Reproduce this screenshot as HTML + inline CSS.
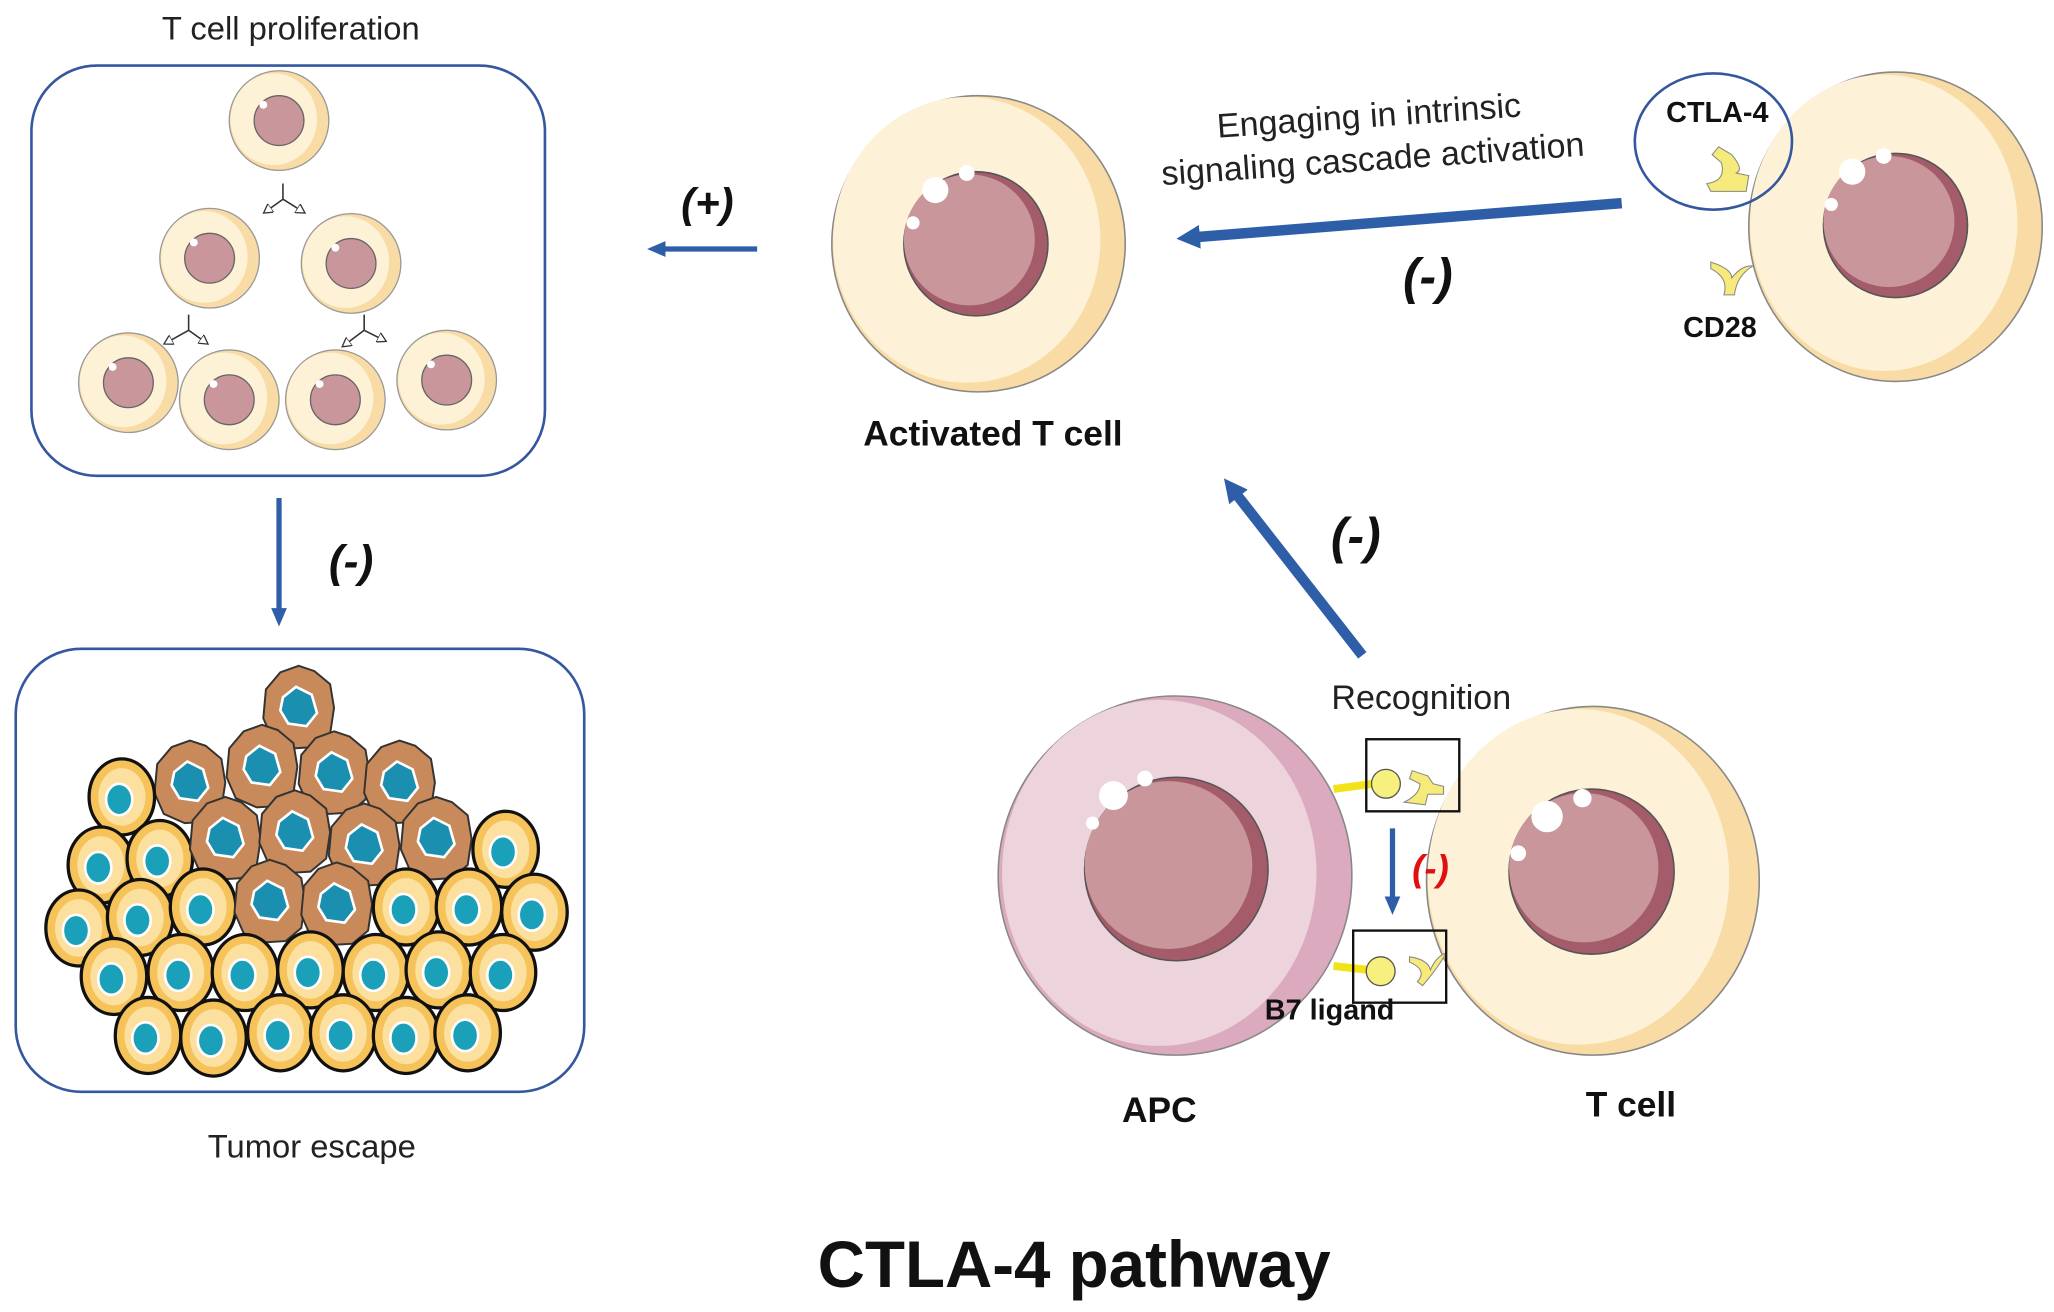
<!DOCTYPE html>
<html><head><meta charset="utf-8"><style>
html,body{margin:0;padding:0;background:#fff;}
svg{display:block;}
text{font-family:"Liberation Sans",sans-serif;}
</style></head><body>
<svg width="2054" height="1312" viewBox="0 0 1568 1001" preserveAspectRatio="none" xmlns="http://www.w3.org/2000/svg">
<defs>
<marker id="ah" markerWidth="14" markerHeight="12" refX="4" refY="6" orient="auto" markerUnits="userSpaceOnUse"><path d="M0,0 L14,6 L0,12 Z" fill="#2f5ea8"/></marker>
<marker id="ahb" markerWidth="18" markerHeight="18" refX="4" refY="9" orient="auto" markerUnits="userSpaceOnUse"><path d="M0,0 L18,9 L0,18 Z" fill="#2f5ea8"/></marker>
<marker id="ha" markerWidth="8" markerHeight="8" refX="6" refY="4" orient="auto" markerUnits="userSpaceOnUse"><path d="M0,0 L7,4 L0,8 Z" fill="#fff" stroke="#333" stroke-width="1"/></marker>
<g id="sc">
<circle r="38" fill="#f9dca5" stroke="#999" stroke-width="1"/>
<ellipse cx="-4" cy="-1" rx="33" ry="35" fill="#fdf1d6"/>
<circle r="19" fill="#c9969b" stroke="#666" stroke-width="1"/>
<circle cx="-12" cy="-12" r="3" fill="#fff"/>
</g>
<g id="oc">
<ellipse rx="25" ry="29" fill="#f6c25a" stroke="#111" stroke-width="2.5"/>
<ellipse rx="18" ry="22" fill="#fbe0a0"/>
<ellipse cx="-2" cy="2" rx="10" ry="12" fill="#1aa0b8" stroke="#fff" stroke-width="2"/>
</g>
<g id="bc">
<path d="M0,-32 L12,-28 L24,-18 L27,0 L24,20 L12,30 L-4,31 L-20,24 L-27,8 L-25,-14 L-14,-27 Z" fill="#c88a5a" stroke="#333" stroke-width="1.5"/>
<path d="M-12,-8 L-2,-16 L10,-10 L14,4 L6,14 L-8,12 L-14,2 Z" fill="#1a8fb0" stroke="#fff" stroke-width="2"/>
</g>
</defs>

<text x="222" y="30" font-size="25" text-anchor="middle" fill="#222">T cell proliferation</text>
<rect x="24" y="50" width="392" height="313" rx="50" fill="none" stroke="#3557a0" stroke-width="2"/>
<use href="#sc" x="213" y="92"/>
<use href="#sc" x="160" y="197"/>
<use href="#sc" x="268" y="201"/>
<use href="#sc" x="98" y="292"/>
<use href="#sc" x="175" y="305"/>
<use href="#sc" x="256" y="305"/>
<use href="#sc" x="341" y="290"/>
<g stroke="#333" stroke-width="1.2" fill="none">
<path d="M216,140 L216,152 M216,152 L232,162" marker-end="url(#ha)"/>
<path d="M216,152 L202,162" marker-end="url(#ha)"/>
<path d="M144,240 L144,252 M144,252 L158,262" marker-end="url(#ha)"/>
<path d="M144,252 L126,262" marker-end="url(#ha)"/>
<path d="M278,240 L278,252 M278,252 L294,260" marker-end="url(#ha)"/>
<path d="M278,252 L262,264" marker-end="url(#ha)"/>
</g>

<line x1="213" y1="380" x2="213" y2="468" stroke="#2f5ea8" stroke-width="4" marker-end="url(#ah)"/>
<text x="268" y="440" font-size="34" font-style="italic" font-weight="bold" text-anchor="middle" fill="#111">(-)</text>

<rect x="12" y="495" width="434" height="338" rx="50" fill="none" stroke="#3557a0" stroke-width="2"/>
<use href="#bc" x="228" y="540"/>
<use href="#bc" x="145" y="597"/><use href="#bc" x="200" y="585"/><use href="#bc" x="255" y="590"/><use href="#bc" x="305" y="597"/>
<use href="#oc" x="93" y="608"/>
<use href="#oc" x="77" y="660"/><use href="#oc" x="122" y="655"/>
<use href="#bc" x="172" y="640"/><use href="#bc" x="225" y="635"/><use href="#bc" x="278" y="645"/><use href="#bc" x="333" y="640"/>
<use href="#oc" x="386" y="648"/>
<use href="#oc" x="60" y="708"/><use href="#oc" x="107" y="700"/><use href="#oc" x="155" y="692"/>
<use href="#bc" x="206" y="688"/><use href="#bc" x="257" y="690"/>
<use href="#oc" x="310" y="692"/><use href="#oc" x="358" y="692"/><use href="#oc" x="408" y="696"/>
<use href="#oc" x="87" y="745"/><use href="#oc" x="138" y="742"/><use href="#oc" x="187" y="742"/><use href="#oc" x="237" y="740"/><use href="#oc" x="287" y="742"/><use href="#oc" x="335" y="740"/><use href="#oc" x="384" y="742"/>
<use href="#oc" x="113" y="790"/><use href="#oc" x="163" y="792"/><use href="#oc" x="214" y="788"/><use href="#oc" x="262" y="788"/><use href="#oc" x="310" y="790"/><use href="#oc" x="357" y="788"/>
<text x="238" y="883" font-size="25" text-anchor="middle" fill="#222">Tumor escape</text>

<line x1="578" y1="190" x2="504" y2="190" stroke="#2f5ea8" stroke-width="4" marker-end="url(#ah)"/>
<text x="540" y="166" font-size="32" font-style="italic" font-weight="bold" text-anchor="middle" fill="#111">(+)</text>

<!-- Activated T cell -->
<ellipse cx="747" cy="186" rx="112" ry="113" fill="#f9dca5" stroke="#888" stroke-width="1.2"/>
<ellipse cx="738" cy="183" rx="102" ry="109" fill="#fdf2d8"/>
<circle cx="745" cy="186" r="55" fill="#a55c6a" stroke="#555" stroke-width="1.2"/>
<circle cx="740" cy="183" r="50" fill="#c9969b"/>
<circle cx="714" cy="145" r="10" fill="#fff"/><circle cx="738" cy="132" r="6" fill="#fff"/><circle cx="697" cy="170" r="5" fill="#fff"/>
<text x="758" y="340" font-size="27" font-weight="bold" text-anchor="middle" fill="#111">Activated T cell</text>

<text x="1045" y="97" font-size="26" text-anchor="middle" fill="#222" transform="rotate(-4 1045 88)">Engaging in intrinsic</text>
<text x="1048" y="130" font-size="26" text-anchor="middle" fill="#222" transform="rotate(-4 1048 121)">signaling cascade activation</text>
<line x1="1238" y1="155" x2="912" y2="181" stroke="#2f5ea8" stroke-width="8" marker-end="url(#ahb)"/>
<text x="1090" y="224" font-size="38" font-style="italic" font-weight="bold" text-anchor="middle" fill="#111">(-)</text>

<!-- right T cell -->
<ellipse cx="1447" cy="173" rx="112" ry="118" fill="#f9dca5" stroke="#888" stroke-width="1.2"/>
<ellipse cx="1438" cy="170" rx="102" ry="113" fill="#fdf2d8"/>
<circle cx="1447" cy="172" r="55" fill="#a55c6a" stroke="#555" stroke-width="1.2"/>
<circle cx="1442" cy="169" r="50" fill="#c9969b"/>
<circle cx="1414" cy="131" r="10" fill="#fff"/><circle cx="1438" cy="119" r="6" fill="#fff"/><circle cx="1398" cy="156" r="5" fill="#fff"/>
<ellipse cx="1308" cy="108" rx="60" ry="52" fill="none" stroke="#3557a0" stroke-width="2"/>
<text x="1311" y="93" font-size="22" font-weight="bold" text-anchor="middle" fill="#111">CTLA-4</text>
<path d="M1312,112 L1322,118 Q1332,130 1325,132 L1335,134 L1333,146 L1306,146 L1303,140 Q1318,138 1314,124 L1307,118 Z" fill="#f5ea7a" stroke="#888" stroke-width="0.8"/>
<path d="M1306,200 Q1322,205 1322,212 Q1330,202 1338,203 Q1326,210 1324,225 L1316,225 Q1320,212 1306,205 Z" fill="#f5ea7a" stroke="#888" stroke-width="0.8"/>
<text x="1313" y="257" font-size="22" font-weight="bold" text-anchor="middle" fill="#111">CD28</text>

<line x1="1040" y1="500" x2="943" y2="376" stroke="#2f5ea8" stroke-width="8" marker-end="url(#ahb)"/>
<text x="1035" y="422" font-size="38" font-style="italic" font-weight="bold" text-anchor="middle" fill="#111">(-)</text>
<text x="1085" y="541" font-size="26" text-anchor="middle" fill="#222">Recognition</text>

<!-- APC -->
<ellipse cx="897" cy="668" rx="135" ry="137" fill="#dcaabf" stroke="#888" stroke-width="1.2"/>
<ellipse cx="885" cy="666" rx="120" ry="132" fill="#ecd3dc"/>
<circle cx="898" cy="663" r="70" fill="#a55c6a" stroke="#555" stroke-width="1.2"/>
<circle cx="892" cy="660" r="64" fill="#c9969b"/>
<circle cx="850" cy="607" r="11" fill="#fff"/><circle cx="874" cy="594" r="6" fill="#fff"/><circle cx="834" cy="628" r="5" fill="#fff"/>

<!-- bottom T cell -->
<ellipse cx="1216" cy="672" rx="127" ry="133" fill="#f9dca5" stroke="#888" stroke-width="1.2"/>
<ellipse cx="1205" cy="669" rx="115" ry="128" fill="#fdf2d8"/>
<circle cx="1215" cy="665" r="63" fill="#a55c6a" stroke="#555" stroke-width="1.2"/>
<circle cx="1209" cy="662" r="57" fill="#c9969b"/>
<circle cx="1181" cy="623" r="12" fill="#fff"/><circle cx="1208" cy="609" r="7" fill="#fff"/><circle cx="1159" cy="651" r="6" fill="#fff"/>

<line x1="1018" y1="602" x2="1048" y2="598" stroke="#f2e21a" stroke-width="6"/>
<circle cx="1058" cy="598" r="11" fill="#f7f07e" stroke="#555" stroke-width="1"/>
<path d="M1078,588 L1090,592 L1094,598 L1102,600 L1102,606 L1090,606 L1088,614 L1072,612 Q1084,606 1084,598 L1076,594 Z" fill="#f5ea7a" stroke="#888" stroke-width="0.8"/>
<rect x="1043" y="564" width="71" height="55" fill="none" stroke="#111" stroke-width="1.8"/>
<line x1="1018" y1="737" x2="1045" y2="740" stroke="#f2e21a" stroke-width="6"/>
<circle cx="1054" cy="741" r="11" fill="#f7f07e" stroke="#555" stroke-width="1"/>
<path d="M1076,730 Q1090,732 1092,740 Q1096,730 1104,727 Q1098,738 1086,752 L1082,749 Q1090,740 1076,734 Z" fill="#f5ea7a" stroke="#888" stroke-width="0.8"/>
<rect x="1033" y="710" width="71" height="55" fill="none" stroke="#111" stroke-width="1.8"/>
<line x1="1063" y1="632" x2="1063" y2="688" stroke="#2f5ea8" stroke-width="4" marker-end="url(#ah)"/>
<text x="1092" y="672" font-size="28" font-style="italic" font-weight="bold" text-anchor="middle" fill="#e01010">(-)</text>
<text x="1015" y="778" font-size="22" font-weight="bold" text-anchor="middle" fill="#111">B7 ligand</text>
<text x="885" y="856" font-size="27" font-weight="bold" text-anchor="middle" fill="#111">APC</text>
<text x="1245" y="852" font-size="27" font-weight="bold" text-anchor="middle" fill="#111">T cell</text>

<text x="820" y="982" font-size="50" font-weight="bold" text-anchor="middle" fill="#111">CTLA-4 pathway</text>
</svg>
</body></html>
